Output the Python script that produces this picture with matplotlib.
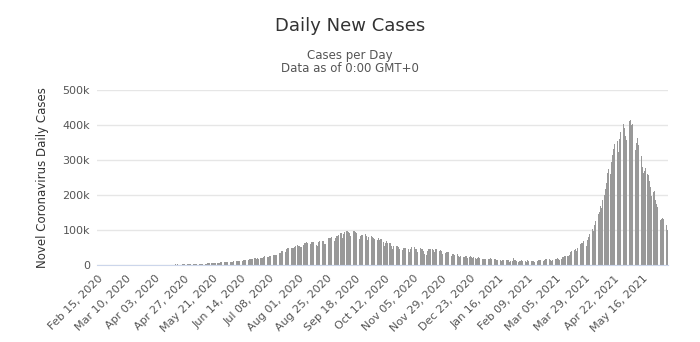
import matplotlib
matplotlib.use("Agg")
import matplotlib.pyplot as plt
import numpy as np
import pandas as pd

# daily new cases, Feb 15 2020 .. Jun 6 2021 (month by month)
feb20 = [0] * 15
mar20 = [0, 2, 1, 22, 2, 1, 3, 5, 9, 15, 8, 10, 10, 12, 11, 23, 12, 22, 44, 57,
         80, 81, 69, 101, 87, 88, 75, 149, 92, 206, 227]
apr20 = [146, 424, 486, 560, 579, 609, 484, 573, 565, 813, 871, 854, 758, 1243, 1031,
         886, 1061, 922, 1371, 1580, 1239, 1537, 1292, 1667, 1408, 1835, 1607, 1568, 1902, 1705]
may20 = [1801, 2396, 2564, 3656, 2971, 3602, 3344, 3339, 3175, 4311, 3592, 3562, 3726,
         3991, 3808, 3967, 4987, 5242, 4970, 5611, 5609, 6088, 6654, 6767, 6977, 6535,
         6387, 7466, 7964, 8380, 8392]
jun20 = [8171, 8909, 9304, 9851, 9887, 9971, 9983, 10882, 9987, 10956, 11458, 11929,
         11502, 10667, 12881, 13586, 14516, 15413, 14821, 14933, 15968, 16922, 17296,
         18552, 19906, 19459, 18522, 18653, 17400, 18900]
jul20 = [19148, 20903, 22771, 24850, 24248, 22252, 22752, 24879, 26506, 27114, 28637,
         28701, 28498, 29429, 32695, 34956, 34884, 38902, 40425, 37148, 37724, 45720,
         49310, 48916, 48661, 49931, 47703, 48513, 52123, 55079, 57117]
aug20 = [54736, 52972, 52050, 52509, 56282, 62538, 61537, 64399, 62064, 53601, 60963,
         66999, 64553, 65002, 63490, 57981, 55079, 64531, 69652, 68898, 69878, 69874,
         61408, 59696, 67151, 75760, 77266, 76472, 78761, 78512, 69921]
sep20 = [78357, 83883, 83341, 86432, 90632, 90802, 75809, 89706, 95735, 96551, 97570,
         94372, 92071, 83809, 90123, 97894, 96424, 93337, 92605, 86961, 75083, 83347,
         86508, 86052, 85362, 88600, 82170, 70589, 80472, 86821]
oct20 = [81484, 79476, 75829, 74442, 61267, 72049, 78524, 70496, 73272, 74383, 66732,
         55342, 63509, 67708, 63371, 62212, 61871, 55722, 46790, 54044, 55839, 53370,
         54366, 50129, 45148, 36470, 43893, 49881, 48648, 48268, 46963]
nov20 = [45231, 38310, 46253, 50210, 47638, 50356, 45674, 45903, 38073, 44281, 47905,
         44879, 44878, 41100, 30548, 29163, 38617, 45576, 45882, 46232, 45209, 44059,
         37975, 44376, 44489, 43082, 41322, 41810, 38772, 31118]
dec20 = [36604, 35551, 36595, 36652, 36011, 32981, 26567, 32080, 31521, 29398, 30006,
         30254, 27071, 22065, 26382, 24010, 22890, 22889, 26624, 24337, 19556, 23950,
         24712, 23068, 18732, 22273, 18732, 16432, 20550, 21822, 20036]
jan21 = [19078, 18177, 18088, 16505, 18088, 20346, 18139, 18222, 18645, 16311, 12584,
         15968, 16946, 15590, 15158, 15144, 13788, 10064, 13823, 15223, 14545, 14256,
         14849, 13203, 9102, 12689, 11666, 18855, 13083, 13052, 11427]
feb21 = [8635, 11039, 12899, 13083, 12408, 11713, 11831, 9110, 12923, 11067, 12923,
         12143, 12194, 11649, 9121, 11610, 12881, 13193, 13993, 14264, 14199, 10584,
         13742, 16738, 16577, 16488, 16752, 15510]
mar21 = [12286, 14989, 17407, 16838, 18327, 18711, 18599, 15388, 17921, 22854, 23285,
         24882, 25320, 26291, 24492, 28903, 35871, 39726, 40953, 43846, 46951, 40715,
         47262, 53476, 59118, 62258, 62714, 68020, 56211, 53480, 72330]
apr21 = [81466, 89129, 93249, 103558, 96982, 115736, 126789, 131968, 145384, 152879,
         168912, 161736, 184372, 200739, 217353, 234692, 261500, 273810, 259170, 295041,
         314835, 332730, 345147, 349313, 354658, 323023, 360927, 379459, 386829, 401993]
may21 = [392562, 368060, 357229, 382691, 412618, 414280, 401078, 403405, 366494, 329517,
         348421, 362727, 343144, 326123, 311170, 281386, 263045, 267334, 276070, 259551,
         257299, 240842, 222315, 195815, 208921, 211298, 186364, 173790, 165553, 152734,
         127510]
jun21 = [132788, 134154, 132364, 120529, 114460, 100636]

cases = np.concatenate([feb20, mar20, apr20, may20, jun20, jul20, aug20, sep20, oct20,
                        nov20, dec20, jan21, feb21, mar21, apr21, may21, jun21])
dates = pd.date_range("2020-02-15", periods=len(cases), freq="D")
yticks = [0, 100000, 200000, 300000, 400000, 500000]
ylabels = ["0", "100k", "200k", "300k", "400k", "500k"]

fig = plt.figure(figsize=(7, 3.42), dpi=100)
ax = fig.add_axes([0.1386, 0.2251, 0.8157, 0.5117])

x = np.arange(len(cases))
ax.bar(x, cases, width=0.72, color="#999999", edgecolor="none", zorder=2)

ax.set_xlim(-0.5, len(cases) - 0.5)
ax.set_ylim(0, 500000)
ax.set_yticks(yticks)
ax.set_yticklabels(ylabels)

tick_idx = x[::24]
ax.set_xticks(tick_idx)
ax.set_xticklabels([dates[i].strftime("%b %d, %Y") for i in tick_idx],
                   rotation=45, ha="right", rotation_mode="anchor")

ax.tick_params(axis="both", length=0, labelsize=8, colors="#555555", pad=5)
ax.tick_params(axis="x", pad=6)
ax.grid(axis="y", color="#e6e6e6", linewidth=1, zorder=0)
for s in ["top", "right", "left"]:
    ax.spines[s].set_visible(False)
ax.spines["bottom"].set_color("#ccd6eb")
ax.spines["bottom"].set_zorder(3)

ax.set_ylabel("Novel Coronavirus Daily Cases", fontsize=8.5, color="#333333", labelpad=10)

fig.text(0.5, 0.925, "Daily New Cases", ha="center", va="center", fontsize=13, color="#333333")
fig.text(0.5, 0.838, "Cases per Day", ha="center", va="center", fontsize=8.5, color="#555555")
fig.text(0.5, 0.8, "Data as of 0:00 GMT+0", ha="center", va="center", fontsize=8.5, color="#555555")

fig.savefig("out.png", dpi=100)
